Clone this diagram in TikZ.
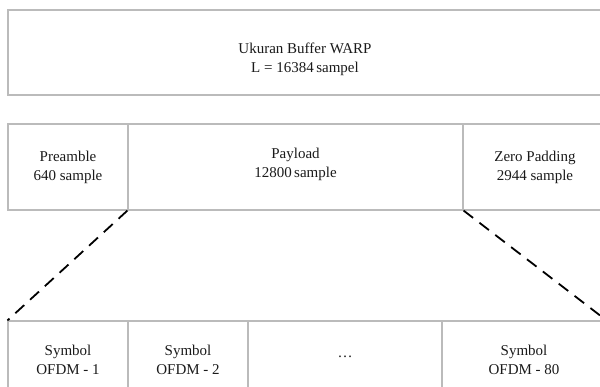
\documentclass[tikz,border=0pt]{standalone}
\usepackage{fontspec}
\setmainfont{Liberation Serif}
\definecolor{boxgray}{HTML}{BBBBBB}
\definecolor{txt}{HTML}{1A1A1A}
\begin{document}
\begin{tikzpicture}[x=1pt,y=-1pt,
  cell/.style={draw=boxgray, line width=1.1pt, rectangle, inner sep=0pt},
  lbl/.style={align=center, inner sep=0pt, text=txt, font=\fontsize{15}{19}\selectfont},
  split/.style={draw=black, line width=1.8pt, dash pattern=on 12pt off 8pt}]
\useasboundingbox (0,0) rectangle (600,387);
\clip (0,0) rectangle (600,387);
% top box
\node[cell, minimum width=598pt, minimum height=85pt] (buf) at (307,52.5) {};
\node[lbl] (buft) at (305,59) {Ukuran Buffer WARP\\L = 16384\,sampel};
% second row
\node[cell, minimum width=120pt, minimum height=86pt] (pre) at (68,167) {};
\node[cell, minimum width=335pt, minimum height=86pt] (pay) at (295.5,167) {};
\node[cell, minimum width=143pt, minimum height=86pt] (zero) at (534.5,167) {};
\node[lbl] (pret) at (68,167) {Preamble\\640 sample};
\node[lbl] (payt) at (295.5,164) {Payload\\12800\,sample};
\node[lbl] (zerot) at (535,167) {Zero Padding\\2944 sample};
% third row
\node[cell, minimum width=120pt, minimum height=90pt] (s1) at (68,366) {};
\node[cell, minimum width=120pt, minimum height=90pt] (s2) at (188,366) {};
\node[cell, minimum width=194pt, minimum height=90pt] (sd) at (345,366) {};
\node[cell, minimum width=164pt, minimum height=90pt] (s80) at (524,366) {};
\node[lbl] (s1t) at (68,360) {Symbol\\OFDM - 1};
\node[lbl] (s2t) at (188,360) {Symbol\\OFDM - 2};
\node[lbl] (sdt) at (345,357) {\dots};
\node[lbl] (s80t) at (524,360) {Symbol\\OFDM - 80};
% dashed connectors
\draw[split] (pay.south west) -- (s1.north west);
\draw[split] (pay.south east) -- (s80.north east);
\end{tikzpicture}
\end{document}
